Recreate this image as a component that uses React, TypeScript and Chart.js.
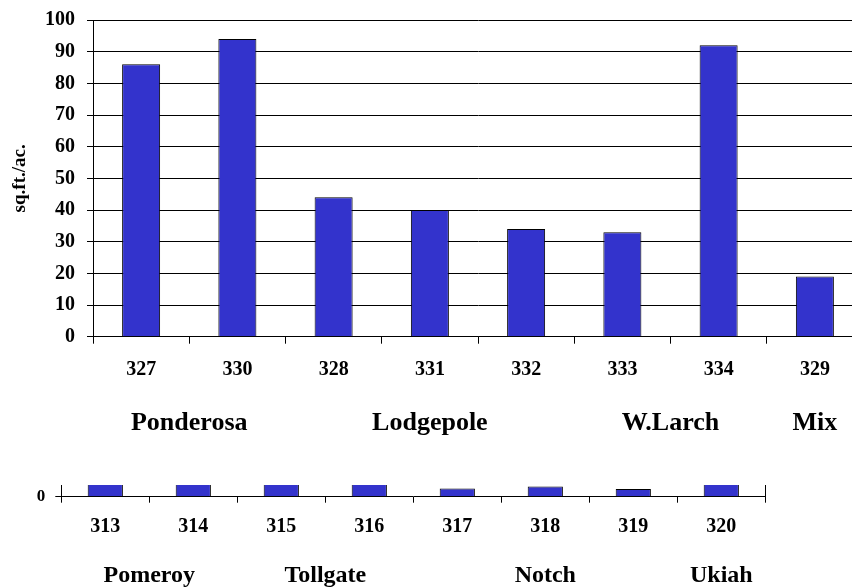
import React, { useEffect, useRef } from 'react';
import { Chart, registerables } from 'chart.js';

Chart.register(...registerables);

// ---- data: upper chart ----
const mainCategories = ['327', '330', '328', '331', '332', '333', '334', '329'];
const mainValues = [86, 94, 44, 40, 34, 33, 92, 19];
const mainGroups = ['Ponderosa', 'Lodgepole', 'W.Larch', 'Mix'];
const mainGroupFirst = [0, 2, 5, 7];
const mainGroupLast = [1, 4, 6, 7];
const mainYMin = 0;
const mainYMax = 100;
const mainYStep = 10;
const mainYTitle = 'sq.ft./ac.';

// ---- data: lower chart ----
const lowerCategories = ['313', '314', '315', '316', '317', '318', '319', '320'];
const lowerValues = [14, 14, 14, 14, 7, 8.8, 6.5, 14];
const lowerGroups = ['Pomeroy', 'Tollgate', 'Notch', 'Ukiah'];
const lowerGroupFirst = [0, 2, 4, 7];
const lowerGroupLast = [1, 3, 6, 7];
const lowerYMin = 0;
const lowerYMax = 10;
const lowerYTicks = [0];

const SERIF = "'Liberation Serif', 'Times New Roman', serif";
const BAR_FILL = '#3333CC';

function groupLabelPlugin(names: string[], first: number[], last: number[], size: number, fromBottom: number) {
  return {
    id: 'groupLabels',
    afterDraw(chart: any) {
      const ctx = chart.ctx;
      const xs = chart.scales.x;
      ctx.save();
      ctx.font = `bold ${size}px ${SERIF}`;
      ctx.fillStyle = '#000';
      ctx.textAlign = 'center';
      ctx.textBaseline = 'alphabetic';
      names.forEach((n, i) => {
        const cx = (xs.getPixelForValue(first[i]) + xs.getPixelForValue(last[i])) / 2;
        ctx.fillText(n, cx, xs.bottom - fromBottom);
      });
      ctx.restore();
    },
  };
}

export default function App() {
  const topRef = useRef<HTMLCanvasElement>(null);
  const botRef = useRef<HTMLCanvasElement>(null);

  useEffect(() => {
    const top = new Chart(topRef.current!, {
      type: 'bar',
      data: {
        labels: mainCategories,
        datasets: [
          {
            data: mainValues,
            backgroundColor: BAR_FILL,
            borderColor: '#000',
            borderWidth: 1,
            barPercentage: 0.395,
            categoryPercentage: 1,
          },
        ],
      },
      options: {
        responsive: false,
        animation: false,
        devicePixelRatio: 1,
        layout: { padding: { top: 20, left: 0, right: 17, bottom: 0 } },
        plugins: { legend: { display: false }, tooltip: { enabled: false } },
        scales: {
          x: {
            grid: { drawOnChartArea: false, drawTicks: true, tickLength: 7, color: '#000', offset: true },
            border: { color: '#000', width: 1 },
            ticks: { color: '#000', font: { family: SERIF, size: 20, weight: 'bold' }, padding: 14, maxRotation: 0, autoSkip: false },
            afterFit: (s: any) => { s.height = 103.3; s.paddingLeft = 0; s.paddingRight = 0; },
          },
          y: {
            min: mainYMin,
            max: mainYMax,
            ticks: { stepSize: mainYStep, color: '#000', font: { family: SERIF, size: 20, weight: 'bold' }, padding: 12 },
            grid: { color: '#000', lineWidth: 1, tickLength: 6 },
            border: { color: '#000', width: 1 },
            title: { display: true, text: mainYTitle, color: '#000', font: { family: SERIF, size: 19, weight: 'bold' }, padding: { top: 9, bottom: 0 } },
            afterFit: (s: any) => { s.width = 93; s.paddingTop = 0; s.paddingBottom = 0; },
          },
        },
      },
      plugins: [groupLabelPlugin(mainGroups, mainGroupFirst, mainGroupLast, 26, 10)],
    } as any);

    const bot = new Chart(botRef.current!, {
      type: 'bar',
      data: {
        labels: lowerCategories,
        datasets: [
          {
            data: lowerValues,
            backgroundColor: BAR_FILL,
            borderColor: '#000',
            borderWidth: 1,
            barPercentage: 0.4,
            categoryPercentage: 1,
            clip: 0,
          },
        ],
      },
      options: {
        responsive: false,
        animation: false,
        devicePixelRatio: 1,
        layout: { padding: { top: 45, left: 0, right: 86.7, bottom: 0 } },
        plugins: { legend: { display: false }, tooltip: { enabled: false } },
        scales: {
          x: {
            grid: { drawOnChartArea: false, drawTicks: true, tickLength: 6, color: '#000', offset: true },
            border: { color: '#000', width: 1 },
            ticks: { color: '#000', font: { family: SERIF, size: 20, weight: 'bold' }, padding: 12, maxRotation: 0, autoSkip: false },
            afterFit: (s: any) => { s.height = 91.3; s.paddingLeft = 0; s.paddingRight = 0; },
          },
          y: {
            min: lowerYMin,
            max: lowerYMax,
            afterBuildTicks: (s: any) => { s.ticks = lowerYTicks.map((v) => ({ value: v })); },
            ticks: { color: '#000', font: { family: SERIF, size: 17, weight: 'bold' }, padding: 10 },
            grid: { drawOnChartArea: false, color: '#000', tickLength: 6 },
            border: { color: '#000', width: 1 },
            afterFit: (s: any) => { s.width = 61.3; s.paddingTop = 0; s.paddingBottom = 0; },
          },
          y2: {
            position: 'right',
            min: lowerYMin,
            max: lowerYMax,
            ticks: { display: false },
            grid: { display: false, drawOnChartArea: false, drawTicks: false },
            border: { display: true, color: '#000', width: 1 },
            afterFit: (s: any) => { s.width = 0; s.paddingTop = 0; s.paddingBottom = 0; },
          },
        },
      },
      plugins: [groupLabelPlugin(lowerGroups, lowerGroupFirst, lowerGroupLast, 24, 6.3)],
    } as any);

    return () => {
      top.destroy();
      bot.destroy();
    };
  }, []);

  return (
    <div style={{ position: 'absolute', left: 0, top: 0, width: 852, height: 588, overflow: 'hidden', background: '#fff' }}>
      <canvas ref={topRef} width={880} height={440} style={{ position: 'absolute', left: 0, top: 0 }} />
      <canvas ref={botRef} width={852} height={148} style={{ position: 'absolute', left: 0, top: 440 }} />
    </div>
  );
}
